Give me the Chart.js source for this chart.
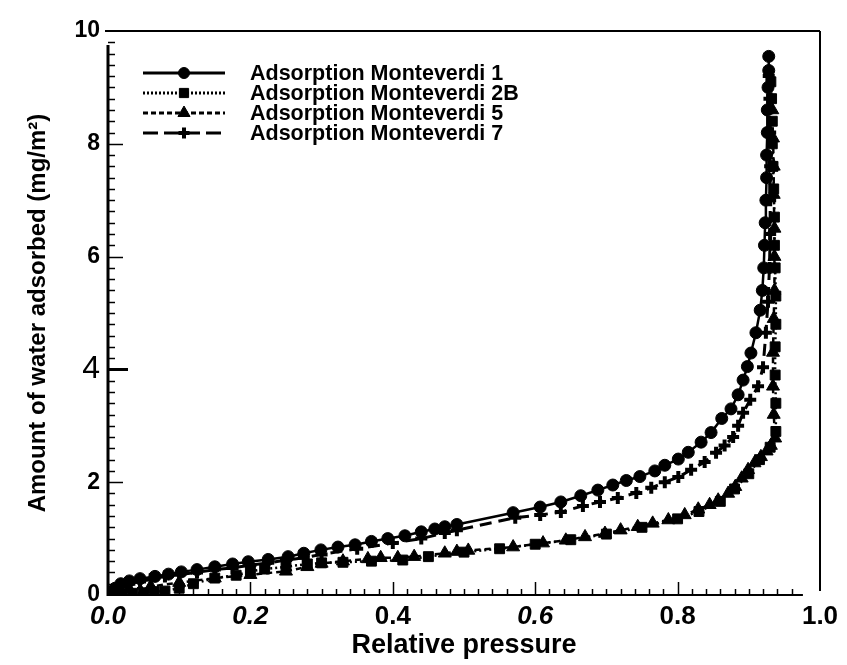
<!DOCTYPE html>
<html>
<head>
<meta charset="utf-8">
<script src="https://cdn.jsdelivr.net/npm/chart.js@4.4.0/dist/chart.umd.min.js"></script>
<style>
  html, body { margin: 0; padding: 0; background: #fff; }
  #wrap { width: 847px; height: 665px; }
</style>
</head>
<body>
<div id="wrap"><canvas id="grafico" width="847" height="665"></canvas></div>
<script>
// Series names (legend)
const nomes = ["Adsorption Monteverdi 1", "Adsorption Monteverdi 2B", "Adsorption Monteverdi 5", "Adsorption Monteverdi 7"];

// Monteverdi 1 - relative pressure / mg/m2
const pressao1 = [0.000,0.005,0.010,0.018,0.030,0.045,0.066,0.085,0.103,0.125,0.150,0.175,0.197,0.225,0.253,0.275,0.299,0.323,0.347,0.370,0.393,0.417,0.440,0.459,0.473,0.490,0.569,0.607,0.636,0.664,0.688,0.709,0.728,0.747,0.768,0.782,0.801,0.815,0.833,0.847,0.862,0.875,0.885,0.892,0.898,0.903,0.910,0.916,0.919,0.921,0.922,0.923,0.924,0.925,0.925,0.926,0.926,0.927,0.928,0.928];
const agua1    = [0.00,0.05,0.12,0.20,0.25,0.29,0.33,0.37,0.41,0.45,0.50,0.55,0.59,0.63,0.68,0.74,0.80,0.85,0.89,0.95,1.00,1.05,1.12,1.17,1.21,1.25,1.46,1.56,1.65,1.76,1.86,1.95,2.03,2.10,2.20,2.30,2.41,2.53,2.71,2.88,3.13,3.30,3.55,3.81,4.05,4.29,4.65,5.05,5.40,5.80,6.20,6.60,7.00,7.40,7.80,8.20,8.60,9.00,9.30,9.55];

// Monteverdi 2B
const pressao2B = [0.000,0.020,0.035,0.050,0.065,0.080,0.100,0.120,0.150,0.180,0.200,0.220,0.250,0.280,0.300,0.330,0.370,0.414,0.450,0.500,0.550,0.600,0.650,0.700,0.750,0.800,0.830,0.860,0.880,0.900,0.915,0.930,0.938,0.938,0.937,0.937,0.938,0.938,0.937,0.936,0.936,0.935,0.934,0.933,0.933,0.932,0.931];
const agua2B    = [0.00,0.02,0.03,0.04,0.06,0.07,0.12,0.20,0.30,0.35,0.42,0.46,0.50,0.55,0.57,0.58,0.60,0.62,0.68,0.76,0.82,0.90,0.98,1.08,1.20,1.35,1.48,1.66,1.88,2.15,2.40,2.62,2.90,3.40,3.90,4.40,4.80,5.30,5.80,6.20,6.70,7.20,7.60,8.00,8.40,8.80,9.10];

// Monteverdi 5
const pressao5 = [0.000,0.010,0.030,0.060,0.100,0.150,0.200,0.250,0.280,0.300,0.330,0.365,0.383,0.407,0.430,0.473,0.490,0.506,0.569,0.611,0.643,0.670,0.698,0.720,0.744,0.765,0.787,0.810,0.829,0.845,0.857,0.871,0.881,0.890,0.899,0.908,0.917,0.925,0.931,0.937,0.935,0.934,0.934,0.935,0.936,0.936,0.936,0.935,0.935,0.934,0.933];
const agua5    = [0.00,0.05,0.10,0.15,0.22,0.30,0.36,0.42,0.50,0.56,0.60,0.64,0.66,0.66,0.68,0.74,0.77,0.79,0.85,0.92,0.97,1.03,1.09,1.15,1.21,1.27,1.33,1.42,1.52,1.60,1.68,1.80,1.92,2.07,2.22,2.34,2.45,2.55,2.65,2.78,3.20,3.70,4.30,4.90,5.40,6.00,6.50,7.10,7.60,8.10,8.60];

// Monteverdi 7
const pressao7 = [0.000,0.010,0.020,0.030,0.045,0.060,0.080,0.100,0.125,0.150,0.175,0.200,0.225,0.250,0.275,0.300,0.350,0.400,0.440,0.473,0.490,0.572,0.607,0.636,0.667,0.691,0.716,0.742,0.763,0.782,0.801,0.819,0.838,0.854,0.866,0.878,0.885,0.892,0.902,0.913,0.920,0.924,0.927,0.929,0.930,0.930,0.930,0.930,0.929,0.928];
const agua7    = [0.00,0.10,0.16,0.20,0.24,0.28,0.33,0.36,0.40,0.45,0.48,0.53,0.57,0.62,0.66,0.72,0.82,0.92,1.00,1.10,1.15,1.37,1.42,1.47,1.58,1.65,1.72,1.81,1.90,2.00,2.09,2.22,2.36,2.52,2.65,2.80,3.00,3.23,3.46,3.70,4.04,4.65,5.20,5.80,6.40,7.00,7.60,8.20,8.80,9.20];

// Axis ticks
const ticksX = [0.0, 0.2, 0.4, 0.6, 0.8, 1.0];
const ticksY = [0, 2, 4, 6, 8, 10];
const rotulosItalicos = ["0.0", "0.2", "0.6"];

const fonte = "'Liberation Sans', Arial, sans-serif";

function pares(xs, ys) {
  return xs.map((v, i) => ({x: v, y: ys[i]}));
}

// line style + marker per series
const estilos = [
  {ponto: 'circle',   raio: 6,   dash: [],       larg: 2.5, bw: 1},
  {ponto: 'rect',     raio: 7,   dash: [2, 3],   larg: 2.5, bw: 1},
  {ponto: 'triangle', raio: 7.5, dash: [6, 4],   larg: 2.5, bw: 1},
  {ponto: 'cross',    raio: 6,   dash: [12, 7],  larg: 3,   bw: 4}
];

const series = [pares(pressao1, agua1), pares(pressao2B, agua2B), pares(pressao5, agua5), pares(pressao7, agua7)];

const datasets = series.map((d, i) => ({
  label: nomes[i],
  data: d,
  borderColor: '#000',
  backgroundColor: '#000',
  borderWidth: estilos[i].larg,
  borderDash: estilos[i].dash,
  pointStyle: estilos[i].ponto,
  pointRadius: estilos[i].raio,
  pointBorderWidth: estilos[i].bw,
  pointBackgroundColor: '#000',
  pointBorderColor: '#000',
  tension: 0,
  fill: false
}));

// Frame, inner ticks and legend
const marcasEixos = {
  id: 'marcasEixos',
  afterDraw(chart) {
    const {ctx, chartArea: a, scales: {x, y}} = chart;
    ctx.save();
    ctx.strokeStyle = '#000';
    ctx.setLineDash([]);
    ctx.lineWidth = 2;
    ctx.beginPath();
    ctx.moveTo(a.left - 3, a.top); ctx.lineTo(a.right, a.top);
    ctx.moveTo(a.right, a.top); ctx.lineTo(a.right, a.bottom - 4);
    ctx.moveTo(a.left, a.bottom); ctx.lineTo(x.getPixelForValue(0.976), a.bottom);
    ctx.stroke();
    ctx.lineWidth = 3;
    ctx.beginPath();
    ctx.moveTo(a.left, a.bottom + 1); ctx.lineTo(a.left, a.top + 14);
    ctx.stroke();

    // y ticks every 0.2
    for (let i = 1; i < 50; i++) {
      const py = Math.round(y.getPixelForValue(i * 0.2)) + 0.5;
      const maior = i % 10 === 0;
      let len = maior ? 15 : 7;
      ctx.lineWidth = 1.5;
      if (i === 20) { len = 20; ctx.lineWidth = 3; }
      ctx.beginPath();
      ctx.moveTo(a.left, py); ctx.lineTo(a.left + len, py);
      ctx.stroke();
    }
    // x ticks every 0.02
    ctx.lineWidth = 1.5;
    for (let i = 1; i <= 48; i++) {
      const px = Math.round(x.getPixelForValue(i * 0.02)) + 0.5;
      const len = i % 10 === 0 ? 13 : 6;
      ctx.beginPath();
      ctx.moveTo(px, a.bottom); ctx.lineTo(px, a.bottom - len);
      ctx.stroke();
    }

    // legend
    const linhas = [73, 93, 113, 133];
    ctx.font = "bold 21.5px " + fonte;
    ctx.textBaseline = 'middle';
    ctx.textAlign = 'left';
    ctx.fillStyle = '#000';
    linhas.forEach((ly, i) => {
      const e = estilos[i];
      ctx.lineWidth = 3;
      ctx.setLineDash(i === 3 ? [15, 6] : i === 2 ? [5, 3] : i === 1 ? [2, 2] : []);
      ctx.beginPath();
      ctx.moveTo(143, ly); ctx.lineTo(225, ly);
      ctx.stroke();
      ctx.setLineDash([]);
      ctx.lineWidth = e.bw;
      Chart.helpers.drawPoint(ctx, {pointStyle: e.ponto, radius: e.raio - 0.5, rotation: 0, borderWidth: e.bw}, 184, ly);
      ctx.fillText(nomes[i], 250, ly + 1);
    });
    ctx.restore();
  }
};

new Chart(document.getElementById('grafico'), {
  type: 'line',
  data: {datasets},
  options: {
    responsive: false,
    animation: false,
    events: [],
    layout: {padding: {left: 0, top: 31, right: 27, bottom: 0}},
    plugins: {legend: {display: false}, tooltip: {enabled: false}},
    scales: {
      x: {
        type: 'linear',
        min: 0, max: 1,
        afterFit: s => { s.height = 70; },
        afterBuildTicks: s => { s.ticks = ticksX.map(v => ({value: v})); },
        grid: {display: false, drawTicks: false},
        border: {display: false},
        ticks: {
          padding: 6,
          color: '#000',
          maxRotation: 0,
          callback: v => v.toFixed(1),
          font: c => ({
            family: fonte, size: 26, weight: 'bold',
            style: c.tick && rotulosItalicos.includes(c.tick.value.toFixed(1)) ? 'italic' : 'normal'
          })
        },
        title: {
          display: true, text: 'Relative pressure', color: '#000',
          font: {family: fonte, size: 27, weight: 'bold'},
          padding: {top: 0, bottom: 3}
        }
      },
      y: {
        type: 'linear',
        min: 0, max: 10,
        afterFit: s => { s.width = 108; },
        afterBuildTicks: s => { s.ticks = ticksY.map(v => ({value: v})); },
        grid: {display: false, drawTicks: false},
        border: {display: false},
        ticks: {
          padding: 8,
          color: '#000',
          font: c => (c.tick && c.tick.value === 4)
            ? {family: fonte, size: 32, weight: 'normal'}
            : {family: fonte, size: 23, weight: 'bold'}
        },
        title: {
          display: true, text: 'Amount of water adsorbed (mg/m\u00B2)', color: '#000',
          font: {family: fonte, size: 24, weight: 'bold'},
          padding: {top: 24, bottom: 0}
        }
      }
    }
  },
  plugins: [marcasEixos]
});
</script>
</body>
</html>
